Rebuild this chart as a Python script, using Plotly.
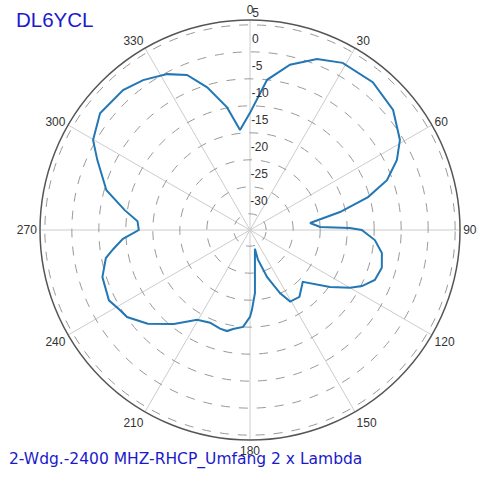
import plotly.graph_objects as go

# Pattern data (angle in degrees, gain in dB)
angles = [0, 6.5, 13.6, 21.4, 29, 39.7, 50, 59, 64.5, 70, 74.4, 78.7, 83.3, 87.5, 88.9, 90,
          94.6, 99.9, 106, 111.8, 116.6, 120, 125.5, 134.5, 143.5, 150.7, 154.5, 160, 165, 165.3,
          175.5, 178.6, 180, 184.1, 189.7, 192.8, 196.9, 203.3, 210.5, 219, 227.5, 234.7, 238.4,
          243.5, 252.3, 259, 262, 266, 270, 274.5, 279, 285.5, 294.6, 299.8, 307.9, 317.8, 324.5,
          332, 337.9, 343.3, 349.4, 354.3, 360]
gain_db = [-11.3, -5.0, -1.5, 1.0, 2.4, 2.6, 1.6, -0.6, -2.85, -6.0, -10.3, -16.0, -21.8, -20.0, -14.5, -12.3,
           -9.8, -8.2, -7.6, -8.1, -9.8, -11.6, -14.8, -19.3, -17.6, -17.8, -20.0, -23.7, -27.3, -29.4,
           -21.3, -18.2, -16.9, -15.0, -14.4, -13.8, -13.9, -14.3, -13.7, -10.6, -7.3, -5.1, -4.7,
           -3.8, -4.3, -5.8, -7.4, -9.4, -12.4, -12.1, -9.5, -5.4, -1.9, 0.5, 2.2, 2.0, 1.1,
           -0.3, -2.0, -5.4, -9.9, -14.4, -11.3]

radial_ticks = [5, 0, -5, -10, -15, -20, -25, -30]
radial_labels = ["5", "0", "-5", "-10", "-15", "-20", "-25", "-30"]
angular_ticks = [0, 30, 60, 90, 120, 150, 180, 210, 240, 270, 300, 330]
angular_labels = ["0", "30", "60", "90", "120", "150", "180", "210", "240", "270", "300", "330"]

title_text = "DL6YCL"
subtitle_text = "2-Wdg.-2400 MHZ-RHCP_Umfang 2 x Lambda"

R_MIN, R_MAX = -33, 5.9

W, H = 492, 480
cx, cy, R = 250, 230, 210

label_r = [min(v + 2.2, R_MAX - 0.05) for v in radial_ticks]
label_pos = ["top right" if v + 2.2 > R_MAX else "middle right" for v in radial_ticks]

fig = go.Figure()
fig.add_trace(go.Scatterpolar(
    r=gain_db, theta=angles, mode="lines",
    line=dict(color="#2277b4", width=2),
    hoverinfo="skip", showlegend=False,
))
fig.add_trace(go.Scatterpolar(
    r=label_r, theta=[0.6] * len(radial_ticks),
    mode="text", text=radial_labels, textposition=label_pos,
    textfont=dict(family="Arial, Liberation Sans, sans-serif", size=12, color="#333333"),
    cliponaxis=False, hoverinfo="skip", showlegend=False,
))

fig.update_layout(
    width=W, height=H,
    margin=dict(l=0, r=0, t=0, b=0),
    paper_bgcolor="white",
    font=dict(family="Arial, Liberation Sans, sans-serif", size=12, color="#333333"),
    polar=dict(
        domain=dict(x=[(cx - R) / W, (cx + R) / W], y=[(H - cy - R) / H, (H - cy + R) / H]),
        bgcolor="white",
        angularaxis=dict(
            rotation=90, direction="clockwise",
            tickmode="array", tickvals=angular_ticks, ticktext=angular_labels,
            showgrid=True, gridcolor="#cccccc", gridwidth=1,
            showline=True, linecolor="#555555", linewidth=1.5,
            ticks="", tickfont=dict(size=12, color="#333333"),
        ),
        radialaxis=dict(
            range=[R_MIN, R_MAX], angle=90,
            tickmode="array", tickvals=radial_ticks,
            showticklabels=False, ticks="", showline=False,
            showgrid=True, gridcolor="#999999", gridwidth=1, griddash="dash",
        ),
    ),
    annotations=[
        dict(text=title_text, xref="paper", yref="paper", x=14 / W, y=1 - 20 / H,
             xanchor="left", yanchor="middle", showarrow=False,
             font=dict(family="Arial, Liberation Sans, sans-serif", size=20.5, color="#1a1acc")),
        dict(text=subtitle_text, xref="paper", yref="paper", x=7 / W, y=1 - 459 / H,
             xanchor="left", yanchor="middle", showarrow=False,
             font=dict(family="DejaVu Sans, Verdana, sans-serif", size=15.5, color="#1a1acc")),
    ],
)

fig.write_html("out.html", config={"displayModeBar": False},
               post_script="document.body.style.margin='0';")
